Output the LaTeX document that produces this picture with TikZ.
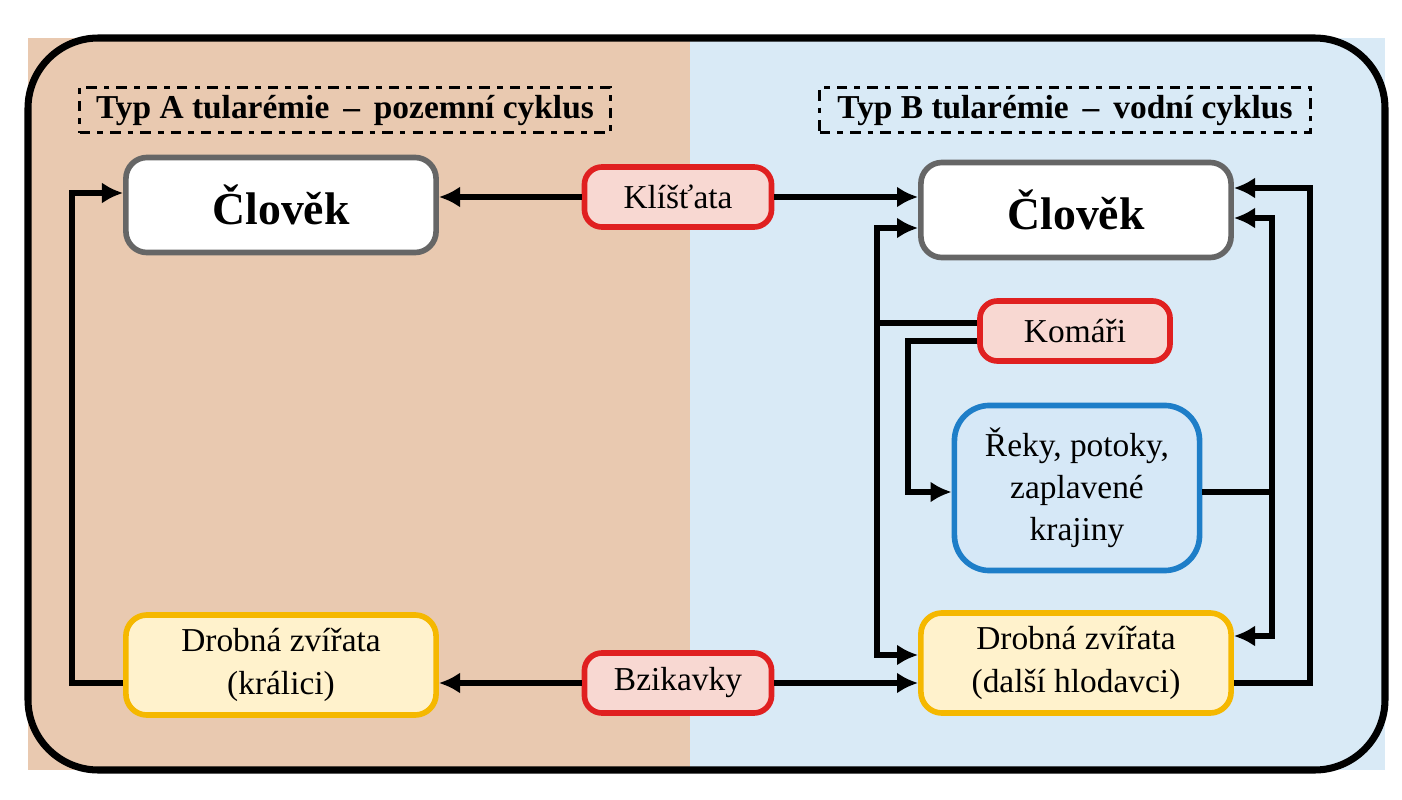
\documentclass[tikz,border=0pt]{standalone}
\usepackage{fontspec}
\setmainfont{Liberation Serif}
\usetikzlibrary{positioning}
\usetikzlibrary{arrows.meta}
\definecolor{landbg}{HTML}{E9C9B0}
\definecolor{waterbg}{HTML}{D9EAF6}
\definecolor{vecred}{HTML}{E02020}
\definecolor{vecfill}{HTML}{F8D8D2}
\definecolor{animyel}{HTML}{F5B800}
\definecolor{animfill}{HTML}{FFF2CC}
\definecolor{h2oblue}{HTML}{1E7EC8}
\definecolor{h2ofill}{HTML}{D6E8F7}
\begin{document}
\begin{tikzpicture}[x=0.01cm,y=-0.01cm,
  every node/.style={align=center,inner sep=2pt},
  every path/.style={line width=1.6pt},
  human/.style={draw=gray!80!black,fill=white,rounded corners=6pt,minimum width=3.1cm,minimum height=0.95cm,font=\bfseries\fontsize{13}{15}\selectfont},
  vector/.style={draw=vecred,fill=vecfill,rounded corners=5pt,minimum width=1.87cm,minimum height=0.6cm,font=\fontsize{9.5}{11}\selectfont},
  animal/.style={draw=animyel,fill=animfill,rounded corners=6pt,minimum width=3.1cm,minimum height=1cm,font=\fontsize{9.5}{12}\selectfont},
  water/.style={draw=h2oblue,fill=h2ofill,rounded corners=10pt,minimum width=2.45cm,minimum height=1.65cm,font=\fontsize{9.5}{12}\selectfont},
  title/.style={draw,dash dot,line width=0.8pt,minimum width=5.3cm,minimum height=0.45cm,font=\bfseries\fontsize{9.5}{11}\selectfont},
  ar/.style={-{Latex[length=6pt,width=6pt]}}
  ]
  \useasboundingbox (0,0) rectangle (1402,800);
  % background
  \fill[landbg] (28,38) rectangle (690,770);
  \fill[waterbg] (690,38) rectangle (1385,770);
  \draw[line width=2pt,rounded corners=20pt] (28,38) rectangle (1385,770);
  % titles
  \node[title] (tA) at (345,110) {Typ A tularémie \,–\, pozemní cyklus};
  \node[title,minimum width=4.9cm] (tB) at (1065,110) {Typ B tularémie \,–\, vodní cyklus};
  % nodes
  \node[human] (manA) at (281,205) {Člověk};
  \node[human] (manB) at (1076,210) {Člověk};
  \node[vector] (tick) at (678,197) {Klíšťata};
  \node[vector] (fly) at (678,683) {Bzikavky};
  \node[vector,minimum width=1.9cm] (mosq) at (1075,331) {Komáři};
  \node[water] (river) at (1077,488) {Řeky, potoky,\\zaplavené\\krajiny};
  \node[animal] (smallA) at (281,665) {Drobná zvířata\\(králici)};
  \node[animal] (smallB) at (1076,663) {Drobná zvířata\\(další hlodavci)};
  % type A
  \draw[ar] (tick) -- (manA.east |- tick);
  \draw[ar] (tick) -- (manB.west |- tick);
  \draw[ar] (fly) -- (smallA.east |- fly);
  \draw[ar] (fly) -- (smallB.west |- fly);
  \draw[ar] (smallA.west |- 0,683) -- (72,683) -- (72,193) -- (manA.west |- 0,193);
  % type B
  \draw[ar] (mosq.west |- 0,323) -- (877,323) -- (877,228) -- (manB.west |- 0,228);
  \draw[ar] (877,323) -- (877,655) -- (smallB.west |- 0,655);
  \draw[ar] (mosq.west |- 0,341) -- (908,341) -- (908,492) -- (river.west |- 0,492);
  \draw (river.east |- 0,492) -- (1272,492);
  \draw[ar] (1272,492) -- (1272,218) -- (manB.east |- 0,218);
  \draw[ar] (1272,492) -- (1272,636) -- (smallB.east |- 0,636);
  \draw[ar] (smallB.east |- 0,683) -- (1310,683) -- (1310,188) -- (manB.east |- 0,188);
\end{tikzpicture}
\end{document}
